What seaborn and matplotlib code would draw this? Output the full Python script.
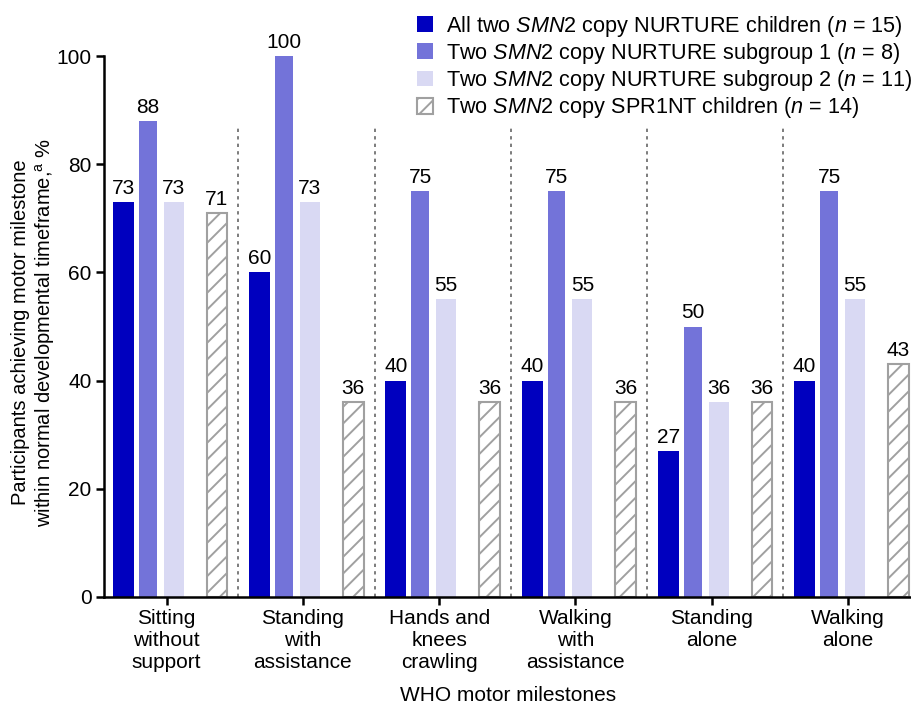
import numpy as np
import pandas as pd
import matplotlib
matplotlib.use("Agg")
import matplotlib.pyplot as plt
from matplotlib.patches import Patch
import seaborn as sns

# Data
milestones = [
    "Sitting\nwithout\nsupport",
    "Standing\nwith\nassistance",
    "Hands and\nknees\ncrawling",
    "Walking\nwith\nassistance",
    "Standing\nalone",
    "Walking\nalone",
]
groups = [
    r"All two $\mathit{SMN}$2 copy NURTURE children ($\mathit{n}$ = 15)",
    r"Two $\mathit{SMN}$2 copy NURTURE subgroup 1 ($\mathit{n}$ = 8)",
    r"Two $\mathit{SMN}$2 copy NURTURE subgroup 2 ($\mathit{n}$ = 11)",
    r"Two $\mathit{SMN}$2 copy SPR1NT children ($\mathit{n}$ = 14)",
]
all_nurture = [73, 60, 40, 40, 27, 40]
subgroup1 = [88, 100, 75, 75, 50, 75]
subgroup2 = [73, 73, 55, 55, 36, 55]
spr1nt = [71, 36, 36, 36, 36, 43]

series = [all_nurture, subgroup1, subgroup2, spr1nt]
df = pd.DataFrame({
    "milestone": [m for s in series for m in milestones],
    "group": [g for g, s in zip(groups, series) for _ in s],
    "value": [v for s in series for v in s],
})

colors = ["#0000BF", "#7373D9", "#D9D9F3", "#FFFFFF"]

sns.set_theme(style="white")
plt.rcParams["font.family"] = ["Liberation Sans", "DejaVu Sans"]
plt.rcParams["mathtext.fontset"] = "custom"
plt.rcParams["mathtext.rm"] = "Liberation Sans"
plt.rcParams["mathtext.it"] = "Liberation Sans:italic"
plt.rcParams["hatch.color"] = "#A0A0A0"
plt.rcParams["hatch.linewidth"] = 1.4
for key in ["text.color", "axes.labelcolor", "xtick.color", "ytick.color"]:
    plt.rcParams[key] = "black"

fig = plt.figure(figsize=(9.12, 7.05), dpi=100)
ax = fig.add_axes([104 / 912, 1 - 597 / 705, 1 - 104 / 912, (597 - 56) / 705])

sns.barplot(data=df, x="milestone", y="value", hue="group", order=milestones,
            hue_order=groups, palette=colors, saturation=1, ax=ax,
            legend=False, errorbar=None)

# Bar placement within each milestone group (offset, width in category units)
offsets = [-0.318, -0.139, 0.051, 0.369]
widths = [0.153, 0.131, 0.146, 0.153]
for k, cont in enumerate(ax.containers):
    for i, bar in enumerate(cont):
        bar.set_x(i + offsets[k] - widths[k] / 2)
        bar.set_width(widths[k])
        bar.set_linewidth(0)
        if k == 3:
            bar.set_hatch("//")
            bar.set_edgecolor("#A0A0A0")
            bar.set_linewidth(1.5)
    ax.bar_label(cont, labels=[str(v) for v in series[k]], padding=3,
                 fontsize=15, color="black")

# Dotted separators between milestones
for i in range(len(milestones) - 1):
    ax.plot([i + 0.526, i + 0.526], [0, 87], ls=(0, (2, 2.5)), color="#666666",
            lw=1.2, zorder=0)

ax.set_xlim(-0.46, 5.47)
ax.set_ylim(0, 100)
ax.set_yticks([0, 20, 40, 60, 80, 100])
ax.tick_params(axis="both", which="major", length=6, width=1.8, color="black",
               labelcolor="black", labelsize=15, left=True, bottom=True, pad=3)
ax.set_xticks(range(len(milestones)))
ax.set_xticklabels(milestones, linespacing=1.2)
for side in ["top", "right"]:
    ax.spines[side].set_visible(False)
for side in ["left", "bottom"]:
    ax.spines[side].set_linewidth(1.8)
    ax.spines[side].set_color("black")

ax.set_xlabel("WHO motor milestones", fontsize=15, labelpad=10)
ax.set_ylabel("Participants achieving motor milestone\n"
              r"within normal developmental timeframe,$^{\mathrm{a}}$ %",
              fontsize=14.5, linespacing=1.15)
ax.yaxis.set_label_coords((57 - 104) / 808, (597 - 332) / 541)

handles = []
for k, c in enumerate(colors):
    if k == 3:
        handles.append(Patch(facecolor="white", edgecolor="#A0A0A0",
                             hatch="//", linewidth=1.5))
    else:
        handles.append(Patch(facecolor=c, edgecolor="none"))
fig.legend(handles, groups, loc="upper left", bbox_to_anchor=(408 / 912, 1 - 5 / 705),
           frameon=False, fontsize=15.6, handlelength=0.75, handleheight=0.75,
           handletextpad=0.6, labelspacing=0.1, borderaxespad=0)

fig.savefig("out.png", dpi=100)
